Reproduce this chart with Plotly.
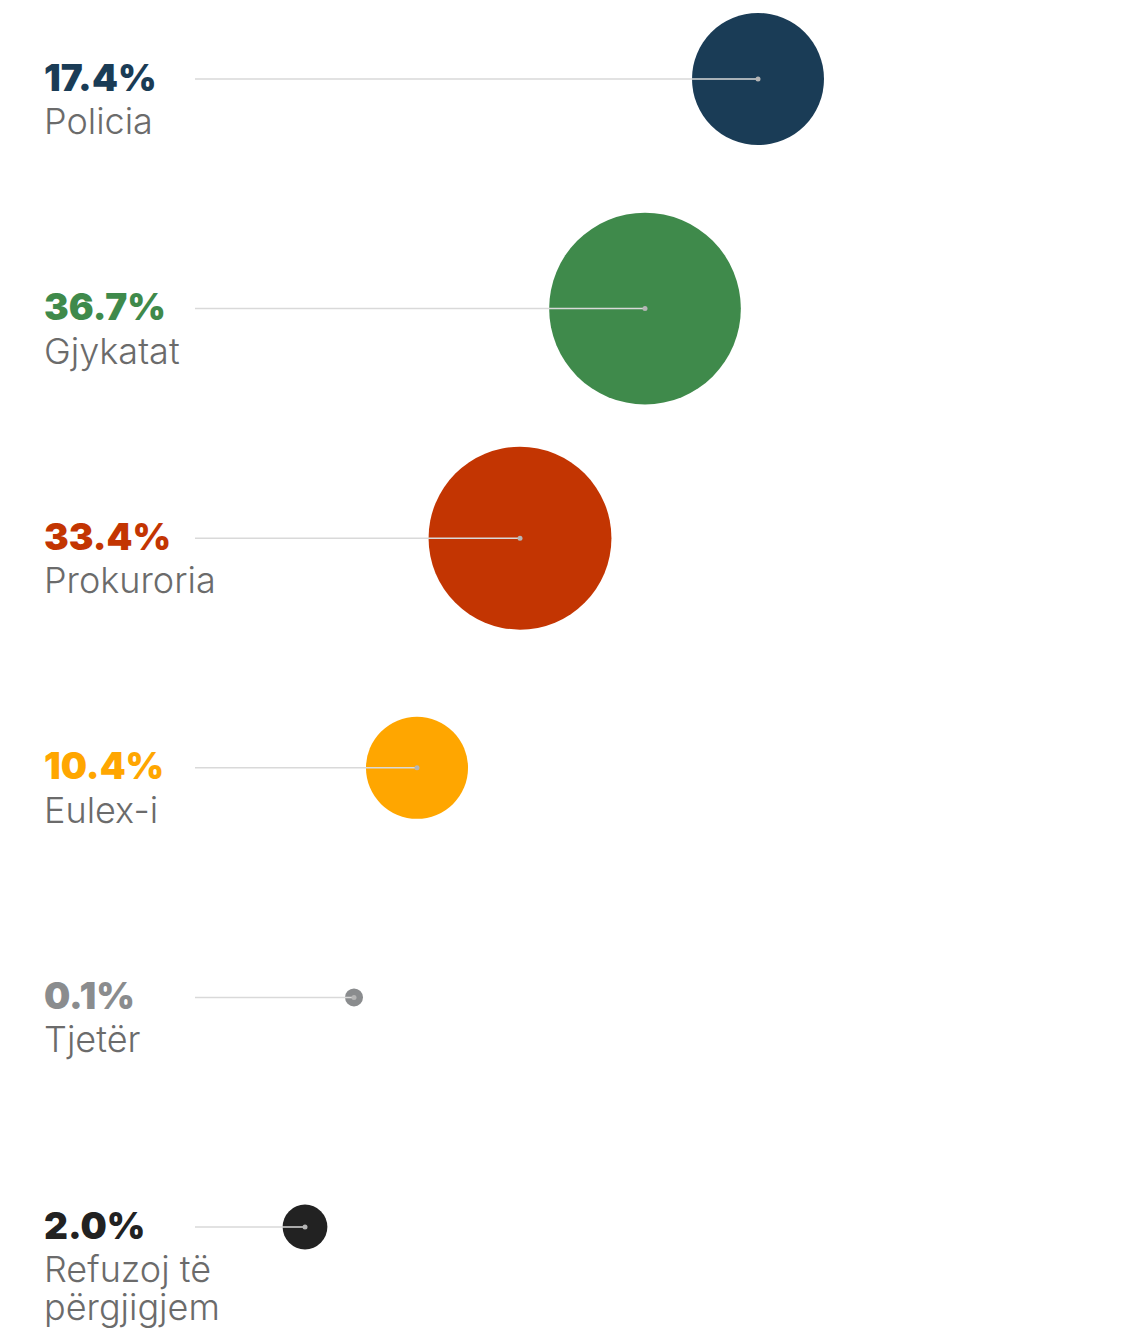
import plotly.graph_objects as go

categories = ["Policia", "Gjykatat", "Prokuroria", "Eulex-i", "Tjetër", "Refuzoj të<br>përgjigjem"]
values = [17.4, 36.7, 33.4, 10.4, 0.1, 2.0]
pct_labels = ["17.4%", "36.7%", "33.4%", "10.4%", "0.1%", "2.0%"]
bubble_x = [758, 645, 520, 417, 354, 305]
colors = ["#1a3c56", "#3f8a4b", "#c33502", "#ffa600", "#8a8c8e", "#222222"]

W, H = 1134, 1335
OFF = 8  # page body margin
rows = list(range(len(categories)))
line_start = 195
label_x = 42

fig = go.Figure()

sizeref = 2 * values[0] / (132.0 ** 2)
fig.add_trace(go.Scatter(
    x=bubble_x, y=rows, mode="markers",
    marker=dict(size=values, sizemode="area", sizeref=sizeref, sizemin=9,
                color=colors, line=dict(width=0), opacity=1),
    hoverinfo="skip", showlegend=False))

for i in rows:
    fig.add_trace(go.Scatter(
        x=[line_start, bubble_x[i]], y=[i, i], mode="lines",
        line=dict(color="#d9d9d9", width=1.5),
        hoverinfo="skip", showlegend=False))

fig.add_trace(go.Scatter(
    x=bubble_x, y=rows, mode="markers",
    marker=dict(size=5, color="#b5b5b5", line=dict(width=0)),
    hoverinfo="skip", showlegend=False))

for i in rows:
    fig.add_annotation(x=label_x, y=i, xref="x", yref="y", text=pct_labels[i],
                       showarrow=False, xanchor="left", yanchor="middle", yshift=2,
                       font=dict(family="Inter", size=37, color=colors[i], weight=900))
    for k, part in enumerate(categories[i].split("<br>")):
        fig.add_annotation(x=label_x, y=i, xref="x", yref="y", text=part,
                           showarrow=False, xanchor="left", yanchor="top",
                           yshift=-18 - 38 * k, align="left",
                           font=dict(family="Inter", size=36, color="#6b6b6b", weight=300))

px_per_row = 229.6
top = (OFF - 79) / px_per_row
bottom = 5 + (H - 1227) / px_per_row
fig.update_layout(
    width=W - OFF, height=H - OFF, margin=dict(l=0, r=0, t=0, b=0),
    paper_bgcolor="white", plot_bgcolor="white",
    xaxis=dict(range=[OFF, W], visible=False, fixedrange=True),
    yaxis=dict(range=[bottom, top], visible=False, fixedrange=True),
)
fig.write_html("out.html")
